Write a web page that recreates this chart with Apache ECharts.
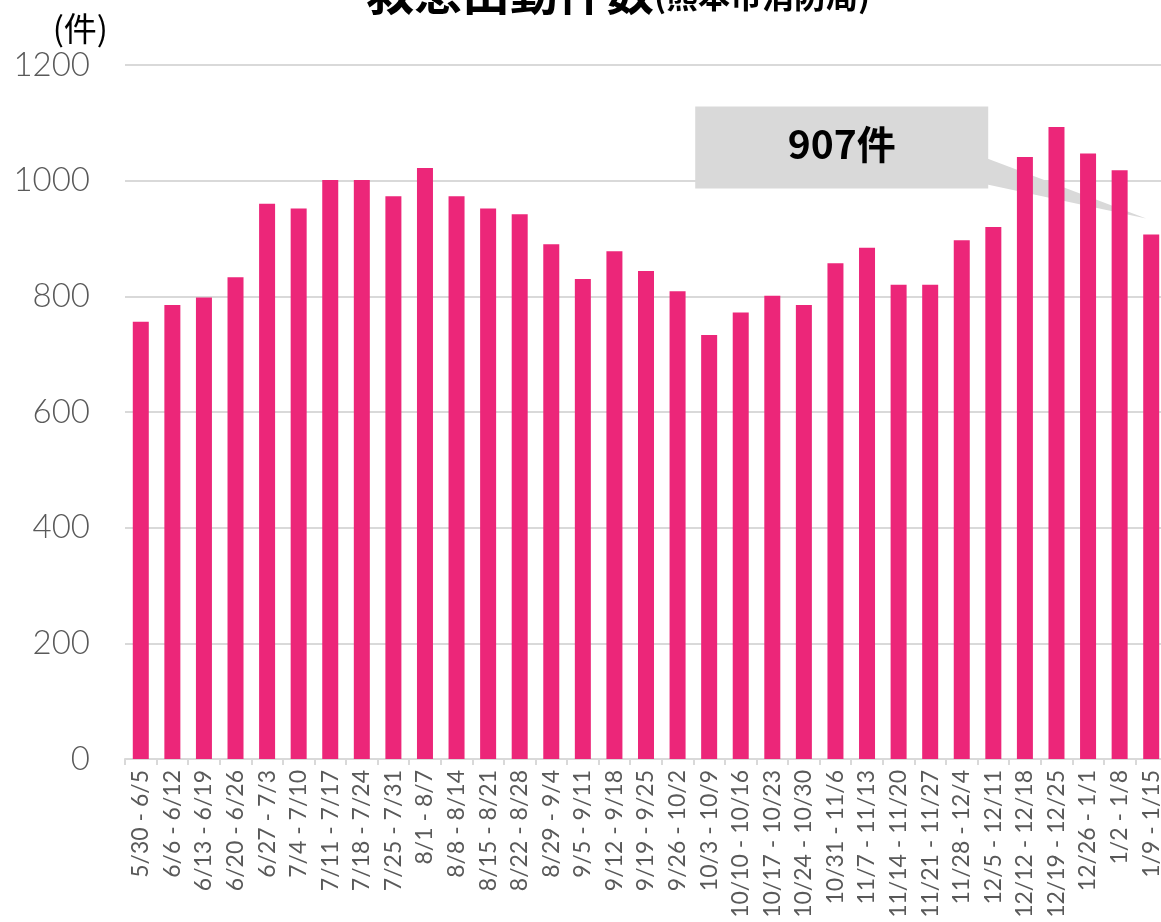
<!DOCTYPE html>
<html>
<head>
<meta charset="utf-8">
<script src="https://cdn.jsdelivr.net/npm/echarts@6/dist/echarts.min.js"></script>
<style>
  html, body { margin: 0; padding: 0; background: #fff; }
  #main { width: 1161px; height: 922px; }
</style>
</head>
<body>
<div id="main"></div>
<script>
// 週ごとの期間
var weeks = ['5/30 - 6/5', '6/6 - 6/12', '6/13 - 6/19', '6/20 - 6/26', '6/27 - 7/3',
  '7/4 - 7/10', '7/11 - 7/17', '7/18 - 7/24', '7/25 - 7/31', '8/1 - 8/7',
  '8/8 - 8/14', '8/15 - 8/21', '8/22 - 8/28', '8/29 - 9/4', '9/5 - 9/11',
  '9/12 - 9/18', '9/19 - 9/25', '9/26 - 10/2', '10/3 - 10/9', '10/10 - 10/16',
  '10/17 - 10/23', '10/24 - 10/30', '10/31 - 11/6', '11/7 - 11/13', '11/14 - 11/20',
  '11/21 - 11/27', '11/28 - 12/4', '12/5 - 12/11', '12/12 - 12/18', '12/19 - 12/25',
  '12/26 - 1/1', '1/2 - 1/8', '1/9 - 1/15'];

// 救急出動件数
var counts = [756, 785, 798, 833, 960, 952, 1001, 1001, 973, 1022,
  973, 952, 942, 890, 830, 878, 844, 809, 733, 772,
  801, 785, 857, 884, 820, 820, 897, 920, 1041, 1093,
  1047, 1018, 907];

var yTicks = [0, 200, 400, 600, 800, 1000, 1200];

var labelFont = 'Lato, "Noto Sans", sans-serif';
var cjkFont = '"Noto Sans CJK JP", sans-serif';

var myChart = echarts.init(document.getElementById('main'));

myChart.setOption({
  animation: false,
  title: {
    text: '{a|救急出動件数}{b|(熊本市消防局)}',
    left: 361,
    top: -37,
    textStyle: {
      rich: {
        a: { fontFamily: cjkFont, fontSize: 48, fontWeight: 'bold', color: '#000' },
        b: { fontFamily: cjkFont, fontSize: 32, fontWeight: 'bold', color: '#000', padding: [8, 0, 0, 0] }
      }
    }
  },
  grid: {
    left: 125,
    right: -6,
    top: 65,
    bottom: 163,
    outerBoundsMode: 'none'
  },
  xAxis: [{
    type: 'category',
    data: weeks,
    axisLine: { lineStyle: { color: '#d9d9d9', width: 2 } },
    axisTick: { show: true, length: 6, lineStyle: { color: '#d9d9d9', width: 2 } },
    axisLabel: {
      interval: 0,
      rotate: 90,
      margin: 11,
      color: '#595959',
      fontSize: 23,
      fontFamily: labelFont
    }
  }],
  yAxis: [{
    type: 'value',
    min: yTicks[0],
    max: yTicks[yTicks.length - 1],
    interval: 200,
    name: '(件)',
    nameLocation: 'end',
    nameGap: 20,
    nameTextStyle: {
      align: 'right',
      padding: [0, 17, 0, 0],
      color: '#000',
      fontSize: 33,
      fontFamily: cjkFont
    },
    axisLine: { show: false },
    axisTick: { show: false },
    axisLabel: {
      margin: 35,
      color: '#595959',
      fontSize: 33,
      fontWeight: 300,
      fontFamily: labelFont,
      formatter: function (v) { return String(v); }
    },
    splitLine: { lineStyle: { color: '#d9d9d9', width: 2 } }
  }],
  series: [{
    name: '救急出動件数',
    type: 'bar',
    barWidth: 16,
    itemStyle: { color: '#EC2679' },
    data: counts
  }]
});

// 最終週の吹き出し (軸の座標から位置を求める)
var last = counts.length - 1;
var barTop = myChart.convertToPixel({ seriesIndex: 0 }, [last, counts[last]]);
var tipX = barTop[0] - 5, tipY = barTop[1] - 16;
var boxL = tipX - 451, boxR = tipX - 158, boxT = tipY - 112, boxB = tipY - 30;

myChart.setOption({
  graphic: [{
    type: 'polygon',
    shape: { points: [[boxR - 1, tipY - 60], [tipX, tipY], [boxR - 1, tipY - 34]] },
    style: { fill: '#d9d9d9' }
  }, {
    type: 'rect',
    shape: { x: boxL, y: boxT, width: boxR - boxL, height: boxB - boxT },
    style: { fill: '#d9d9d9' }
  }, {
    type: 'text',
    x: (boxL + boxR) / 2,
    y: (boxT + boxB) / 2 - 3,
    style: {
      text: counts[last] + '件',
      align: 'center',
      verticalAlign: 'middle',
      fill: '#000',
      font: 'bold 39px ' + cjkFont
    }
  }]
});
</script>
</body>
</html>
